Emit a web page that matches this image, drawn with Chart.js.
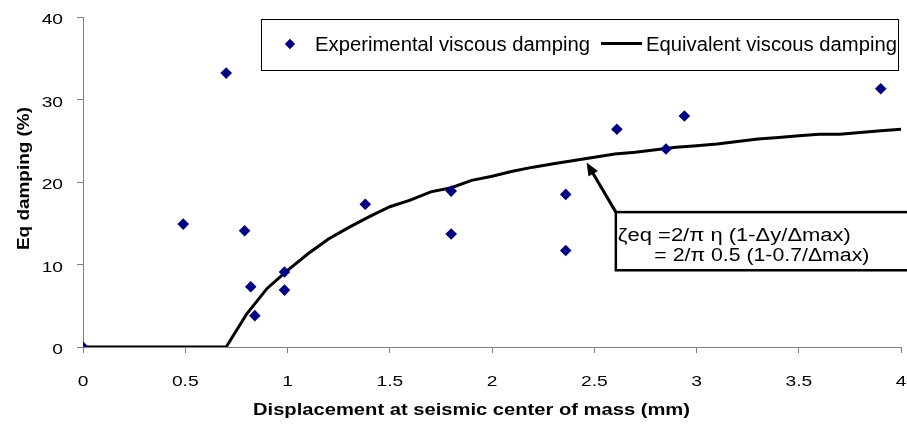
<!DOCTYPE html>
<html>
<head>
<meta charset="utf-8">
<script src="https://cdn.jsdelivr.net/npm/chart.js@4/dist/chart.umd.min.js"></script>
<style>
  html, body { margin: 0; padding: 0; background: #fff; }
  #wrap { width: 907px; height: 426px; }
</style>
</head>
<body>
<div id="wrap"><canvas id="c" width="907" height="426"></canvas></div>
<script>
// Measured damping per test (displacement in mm, damping in %)
const expDisp = [0, 0.49, 0.70, 0.79, 0.82, 0.84, 0.985, 0.985, 1.38, 1.80, 1.80, 2.36, 2.36, 2.61, 2.85, 2.94, 3.90];
const expDamp = [0, 14.9, 33.2, 14.1, 7.3, 3.8, 9.1, 6.9, 17.3, 18.9, 13.7, 18.5, 11.7, 26.4, 24.0, 28.0, 31.3];

// Equivalent viscous damping curve
const eqDisp = [0, 0.7, 0.8, 0.9, 1.0, 1.1, 1.2, 1.3, 1.4, 1.5, 1.6, 1.7, 1.8, 1.9, 2.0, 2.1, 2.2, 2.3, 2.4, 2.5,
                2.6, 2.7, 2.8, 2.9, 3.0, 3.1, 3.2, 3.3, 3.4, 3.5, 3.6, 3.7, 3.8, 3.9, 4.0];
const eqDamp = [0, 0, 4.0, 7.1, 9.3, 11.3, 13.1, 14.5, 15.8, 17.0, 17.8, 18.8, 19.3, 20.2, 20.7, 21.3, 21.8, 22.2, 22.6, 23.0,
                23.4, 23.6, 23.9, 24.2, 24.4, 24.6, 24.9, 25.2, 25.4, 25.6, 25.8, 25.8, 26.0, 26.2, 26.4];

// Axis ranges and labels
const xRange = [0, 4, 0.5];
const yRange = [0, 40, 10];
const seriesNames = ['Experimental viscous damping', 'Equivalent viscous damping'];
const xTitle = 'Displacement at seismic center of mass (mm)';
const yTitle = 'Eq damping (%)';
const noteLines = ['ζeq =2/π η (1-Δy/Δmax)', '= 2/π 0.5 (1-0.7/Δmax)'];

// Callout anchor points in data units
const noteTip = { x: 2.462, y: 22.35 };
const noteCorner = { x: 2.605, y: 16.35, bottom: 9.3 };

const FAMILY = "'Liberation Sans', Arial, sans-serif";
const NAVY = '#000080';
const AXIS_GREY = '#808080';

// Text drawn with an optional horizontal widening (fixed factor or target width)
function drawText(ctx, text, x, y, font, o) {
  o = o || {};
  ctx.save();
  ctx.font = font;
  const w = ctx.measureText(text).width;
  const sx = o.width ? o.width / w : (o.sx || 1);
  ctx.translate(x, y);
  if (o.rotate) ctx.rotate(o.rotate);
  ctx.scale(sx, 1);
  ctx.textAlign = o.align || 'left';
  ctx.textBaseline = 'alphabetic';
  ctx.fillStyle = o.color || '#000';
  ctx.fillText(text, 0, 0);
  ctx.restore();
}

function diamond(ctx, x, y, r, color) {
  ctx.save();
  ctx.fillStyle = color;
  ctx.beginPath();
  ctx.moveTo(x, y - r); ctx.lineTo(x + r, y); ctx.lineTo(x, y + r); ctx.lineTo(x - r, y);
  ctx.closePath();
  ctx.fill();
  ctx.restore();
}

// "0.5", "1", "1.5" ... without trailing zeros
const fmtTick = v => String(Math.round(v * 100) / 100);

const overlay = {
  id: 'overlay',
  afterDraw(chart) {
    const ctx = chart.ctx;
    const xs = chart.scales.x, ys = chart.scales.y;
    const tickFont = '15px ' + FAMILY;

    // tick labels
    ys.ticks.forEach(t => drawText(ctx, fmtTick(t.value), xs.left - 20, ys.getPixelForValue(t.value) + 7, tickFont, { align: 'right', sx: 1.28 }));
    xs.ticks.forEach(t => drawText(ctx, fmtTick(t.value), xs.getPixelForValue(t.value), ys.bottom + 39, tickFont, { align: 'center', sx: 1.28 }));

    // axis titles
    drawText(ctx, xTitle, 253, 415, 'bold 16px ' + FAMILY, { width: 437 });
    drawText(ctx, yTitle, 28.5, 178.5, 'bold 17px ' + FAMILY, { align: 'center', rotate: -Math.PI / 2, width: 143 });

    // legend
    ctx.save();
    ctx.strokeStyle = '#000';
    ctx.lineWidth = 1;
    ctx.strokeRect(261.5, 19.5, 637, 51);
    ctx.restore();
    const ds0 = chart.data.datasets[0], ds1 = chart.data.datasets[1];
    diamond(ctx, 290, 44, 5.2, ds0.backgroundColor);
    drawText(ctx, ds0.label, 315, 50.5, '20px ' + FAMILY, { width: 275 });
    ctx.save();
    ctx.strokeStyle = ds1.borderColor;
    ctx.lineWidth = ds1.borderWidth;
    ctx.beginPath(); ctx.moveTo(601, 43.5); ctx.lineTo(642, 43.5); ctx.stroke();
    ctx.restore();
    drawText(ctx, ds1.label, 646, 50.5, '20px ' + FAMILY, { width: 251 });

    // callout box with arrow
    const tx = xs.getPixelForValue(noteTip.x), ty = ys.getPixelForValue(noteTip.y);
    const bx = xs.getPixelForValue(noteCorner.x), by = ys.getPixelForValue(noteCorner.y);
    const bb = ys.getPixelForValue(noteCorner.bottom);
    ctx.save();
    ctx.fillStyle = '#fff';
    ctx.strokeStyle = '#000';
    ctx.lineWidth = 2.5;
    ctx.fillRect(bx, by, chart.width - bx + 10, bb - by);
    ctx.strokeRect(bx, by, chart.width - bx + 10, bb - by);
    // arrow shaft and head
    const dx = tx - bx, dy = ty - by, len = Math.hypot(dx, dy);
    const ux = dx / len, uy = dy / len, hl = 13, hw = 5.5;
    ctx.lineWidth = 3;
    ctx.beginPath();
    ctx.moveTo(bx, by);
    ctx.lineTo(tx - ux * (hl - 2), ty - uy * (hl - 2));
    ctx.stroke();
    ctx.fillStyle = '#000';
    ctx.beginPath();
    ctx.moveTo(tx, ty);
    ctx.lineTo(tx - ux * hl - uy * hw, ty - uy * hl + ux * hw);
    ctx.lineTo(tx - ux * hl + uy * hw, ty - uy * hl - ux * hw);
    ctx.closePath();
    ctx.fill();
    ctx.restore();
    drawText(ctx, noteLines[0], bx + 2, by + 28.7, '18px ' + FAMILY, { width: 233 });
    drawText(ctx, noteLines[1], bx + 38.5, by + 49, '18px ' + FAMILY, { width: 215 });
  }
};

const axisGrid = { drawOnChartArea: false, drawTicks: true, tickLength: 6, color: AXIS_GREY, lineWidth: 1 };

new Chart(document.getElementById('c'), {
  type: 'scatter',
  data: {
    datasets: [
      {
        label: seriesNames[0],
        data: expDisp.map((x, i) => ({ x, y: expDamp[i] })),
        pointStyle: 'rectRot',
        pointRadius: 5.8,
        backgroundColor: NAVY,
        borderColor: NAVY,
        borderWidth: 0,
        showLine: false,
        order: 0
      },
      {
        label: seriesNames[1],
        type: 'line',
        data: eqDisp.map((x, i) => ({ x, y: eqDamp[i] })),
        borderColor: '#000',
        borderWidth: 3,
        pointRadius: 0,
        tension: 0,
        fill: false,
        order: 1
      }
    ]
  },
  options: {
    responsive: false,
    animation: false,
    devicePixelRatio: 1,
    layout: { padding: { top: 17, right: 5, left: 0, bottom: 0 } },
    plugins: { legend: { display: false }, tooltip: { enabled: false } },
    scales: {
      x: {
        type: 'linear', min: xRange[0], max: xRange[1],
        ticks: { stepSize: xRange[2], display: false },
        grid: axisGrid,
        border: { color: AXIS_GREY, width: 1 },
        afterFit(s) { s.height = 79; s.paddingLeft = 0; s.paddingRight = 0; }
      },
      y: {
        type: 'linear', min: yRange[0], max: yRange[1],
        ticks: { stepSize: yRange[2], display: false },
        grid: axisGrid,
        border: { color: AXIS_GREY, width: 1 },
        afterFit(s) { s.width = 83; s.paddingTop = 0; s.paddingBottom = 0; }
      }
    }
  },
  plugins: [overlay]
});
</script>
</body>
</html>
